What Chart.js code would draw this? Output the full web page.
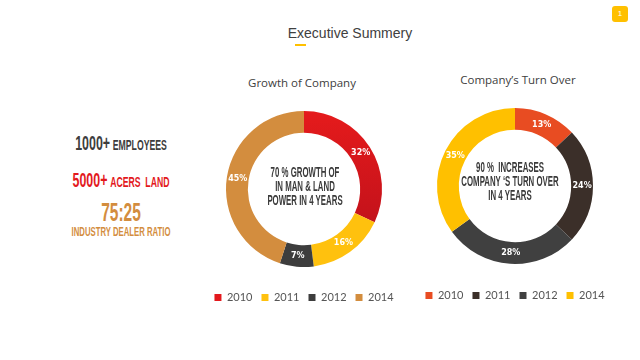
<!DOCTYPE html>
<html>
<head>
<meta charset="utf-8">
<script src="https://cdn.jsdelivr.net/npm/chart.js@4.4.0/dist/chart.umd.min.js"></script>
<style>
  html, body { margin: 0; padding: 0; background: #fff; }
  body { width: 640px; height: 360px; position: relative; overflow: hidden; font-family: 'Liberation Sans', Arial, sans-serif; }
  .abs { position: absolute; }
  .narrow { font-family: 'Liberation Sans', Arial, sans-serif; font-weight: bold; transform: scaleX(0.62); transform-origin: center; white-space: nowrap; }
  #title { left: 0; width: 700px; top: 25px; text-align: center; font-size: 14px; color: #404040; }
  #underline { left: 295px; top: 44px; width: 11px; height: 2px; background: #ffc000; }
  #badge { left: 612px; top: 6px; width: 16px; height: 16px; border-radius: 3px; background: #ffc000; color: #fff; font-size: 8px; text-align: center; line-height: 16px; }
  .ctitle { font-family: 'Open Sans', Lato, sans-serif; font-size: 11.5px; color: #404040; text-align: center; width: 200px; }
  .stat { left: 21px; width: 200px; text-align: center; }
  .center { text-align: center; color: #3a3a3a; font-size: 14px; line-height: 14px; width: 200px; transform: scaleX(0.56); }
  .wrap { position: absolute; }
</style>
</head>
<body>
<div id="title" class="abs">Executive Summery</div>
<div id="underline" class="abs"></div>
<div id="badge" class="abs">1</div>

<div class="abs stat narrow" style="top:132px;color:#3d3d3d;"><span style="font-size:20px;">1000+</span> <span style="font-size:14px;">EMPLOYEES</span></div>
<div class="abs stat narrow" style="top:169px;color:#e3191d;"><span style="font-size:20px;">5000+</span> <span style="font-size:14px;">ACERS&nbsp; LAND</span></div>
<div class="abs stat narrow" style="top:198px;color:#d38d3e;font-size:25px;">75:25</div>
<div class="abs stat narrow" style="top:225px;color:#d38d3e;font-size:12.5px;">INDUSTRY DEALER RATIO</div>

<div class="abs ctitle" style="left:202px;top:75px;">Growth of Company</div>
<div class="abs ctitle" style="left:418px;top:72px;">Company’s Turn Over</div>

<div class="wrap" style="left:184px;top:95px;width:240px;height:218px;"><canvas id="growth"></canvas></div>
<div class="wrap" style="left:395px;top:91px;width:240px;height:220px;"><canvas id="turnover"></canvas></div>

<div class="abs center narrow" style="left:205px;top:165px;">70 % GROWTH OF<br>IN MAN &amp; LAND<br>POWER IN 4 YEARS</div>
<div class="abs center narrow" style="left:410px;top:160px;">90 %&nbsp; INCREASES<br>COMPANY ‘S TURN OVER<br>IN 4 YEARS</div>

<script>
const years = ['2010', '2011', '2012', '2014'];
const growthValues = [32, 16, 7, 45];
const turnoverValues = [13, 24, 28, 35];
const growthColors = ['#e3191d', '#ffc10e', '#3d3d3d', '#d38d3e'];
const turnoverColors = ['#e84c22', '#3b2f29', '#404040', '#ffc000'];

// draws the % labels in the middle of each ring slice
const sliceLabels = {
    id: 'sliceLabels',
    afterDatasetsDraw(chart) {
        const ctx = chart.ctx;
        const meta = chart.getDatasetMeta(0);
        ctx.save();
        ctx.font = 'bold 8px "DejaVu Sans", sans-serif';
        ctx.fillStyle = '#fff';
        ctx.textAlign = 'center';
        ctx.textBaseline = 'middle';
        meta.data.forEach((arc, i) => {
            const p = arc.getCenterPoint();
            ctx.fillText(chart.data.datasets[0].data[i] + '%', p.x, p.y);
        });
        ctx.restore();
    }
};

// first growth slice fades to a darker red towards the bottom
function growthFill(context) {
    const i = context.dataIndex;
    const area = context.chart.chartArea;
    if (i !== 0 || !area || context.type !== 'data') return growthColors[i] || growthColors[0];
    const g = context.chart.ctx.createLinearGradient(0, area.top, 0, area.bottom);
    g.addColorStop(0, '#ea1c1c');
    g.addColorStop(0.6, '#c8131b');
    g.addColorStop(1, '#a80f1c');
    return g;
}

function makeDonut(id, values, fill) {
    const ctx = document.getElementById(id).getContext('2d');
    return new Chart(ctx, {
        type: 'doughnut',
        data: {
            labels: years,
            datasets: [{ data: values, backgroundColor: fill, borderWidth: 0 }]
        },
        options: {
            responsive: true,
            maintainAspectRatio: false,
            animation: false,
            radius: 78,
            cutout: '72%',
            layout: { padding: 0 },
            plugins: {
                legend: {
                    position: 'bottom',
                    labels: {
                        boxWidth: 7,
                        boxHeight: 7,
                        padding: 9,
                        color: '#555',
                        font: { family: 'Lato, "Open Sans", sans-serif', size: 11 },
                        generateLabels(chart) {
                            const items = Chart.overrides.doughnut.plugins.legend.labels.generateLabels(chart);
                            const base = id === 'growth' ? growthColors : turnoverColors;
                            items.forEach((it, i) => { it.fillStyle = base[i]; it.strokeStyle = base[i]; });
                            return items;
                        }
                    }
                },
                tooltip: { enabled: false }
            }
        },
        plugins: [sliceLabels]
    });
}

makeDonut('growth', growthValues, growthFill);
makeDonut('turnover', turnoverValues, turnoverColors);
</script>
</body>
</html>
